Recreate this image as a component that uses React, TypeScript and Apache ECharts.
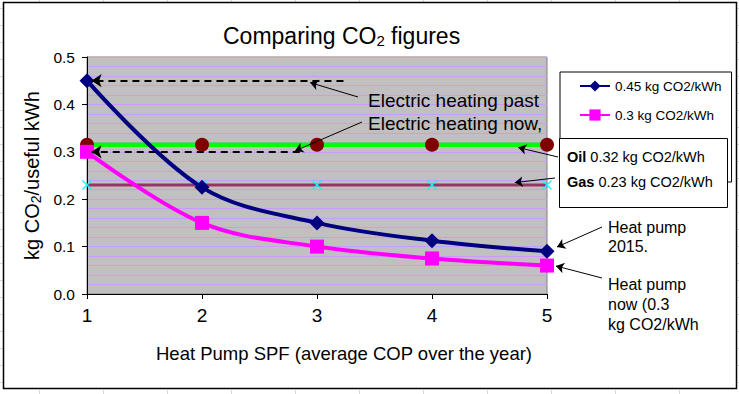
import React, { useEffect, useRef } from "react";
import * as echarts from "echarts";

const spf = [1, 2, 3, 4, 5];
const heatPumpPast = [0.45, 0.225, 0.15, 0.1125, 0.09];
const heatPumpNow = [0.3, 0.15, 0.1, 0.075, 0.06];
const oilValues = [0.315, 0.315, 0.315, 0.315, 0.315];
const gasValues = [0.23, 0.23, 0.23, 0.23, 0.23];
const yTicks = { min: 0, max: 0.5, interval: 0.1 };
const xTicks = { min: 1, max: 5, interval: 1 };
const pastDashed = { from: 3.23, to: 1.04, value: 0.45 };
const nowDashed = { from: 2.85, to: 1.04, value: 0.3 };
const seriesNames = ["0.45 kg CO2/kWh", "0.3 kg CO2/kWh"];

const FONT = 'Arial, "Liberation Sans", sans-serif';

export default function App() {
  const ref = useRef<HTMLDivElement>(null);
  useEffect(() => {
    const chart = echarts.init(ref.current!, null, { renderer: "svg" });
    const pairs = (xs: number[], ys: number[]) => xs.map((x, i) => [x, ys[i]]);

    const sheetLines: any[] = [];
    for (let k = 0; k < 12; k++) {
      const x = 39 + 64 * k + 0.5;
      sheetLines.push({ type: "line", shape: { x1: x, y1: 0, x2: x, y2: 2 }, style: { stroke: "#d8d8d8", lineWidth: 1 }, silent: true });
      sheetLines.push({ type: "line", shape: { x1: x, y1: 390, x2: x, y2: 394 }, style: { stroke: "#d8d8d8", lineWidth: 1 }, silent: true });
    }
    for (let y = 8; y < 394; y += 17) {
      sheetLines.push({ type: "line", shape: { x1: 0, y1: y + 0.5, x2: 3, y2: y + 0.5 }, style: { stroke: "#d8d8d8", lineWidth: 1 }, silent: true });
      sheetLines.push({ type: "line", shape: { x1: 737, y1: y + 0.5, x2: 739, y2: y + 0.5 }, style: { stroke: "#d8d8d8", lineWidth: 1 }, silent: true });
    }

    const txt = (text: string, x: number, y: number, extra: any = {}) => ({
      type: "text",
      x,
      y,
      z: 100,
      style: { text, fill: "#000", font: `16px ${FONT}`, verticalAlign: "middle", align: "left", ...extra },
    });

    chart.setOption({
      animation: false,
      backgroundColor: "#ffffff",
      textStyle: { fontFamily: FONT },
      title: {
        text: "Comparing CO{s|2} figures",
        left: 223,
        top: 24,
        padding: 0,
        textStyle: {
          fontFamily: FONT,
          fontSize: 23,
          fontWeight: "normal",
          color: "#000",
          rich: { s: { fontSize: 15, fontFamily: FONT, padding: [9, 0, 0, 0] } },
        },
      },
      legend: {
        data: seriesNames,
        orient: "vertical",
        left: 560,
        top: 72,
        itemWidth: 30,
        itemHeight: 14,
        itemGap: 15,
        padding: [7, 10, 60, 19],
        backgroundColor: "#fff",
        borderColor: "#000",
        borderWidth: 1,
        textStyle: { fontFamily: FONT, fontSize: 13.5, color: "#000" },
      },
      grid: {
        left: 87,
        top: 57,
        width: 460,
        height: 237,
        show: true,
        backgroundColor: "#C0C0C0",
        borderColor: "#808080",
        borderWidth: 1,
      },
      xAxis: {
        type: "value",
        min: xTicks.min,
        max: xTicks.max,
        interval: xTicks.interval,
        name: "Heat Pump SPF (average COP over the year)",
        nameLocation: "middle",
        nameGap: 50,
        nameTextStyle: { fontFamily: FONT, fontSize: 18.5, color: "#000", padding: [0, 0, 0, 54] },
        axisLine: { lineStyle: { color: "#000", width: 1 } },
        axisTick: { show: true, inside: false, length: 5, lineStyle: { color: "#000" } },
        axisLabel: { fontSize: 19, color: "#000", margin: 12, fontFamily: FONT },
        splitLine: { show: false },
      },
      yAxis: {
        type: "value",
        min: yTicks.min,
        max: yTicks.max,
        interval: yTicks.interval,
        name: "kg CO{s|2}/useful kWh",
        nameLocation: "middle",
        nameGap: 40,
        nameTextStyle: {
          fontFamily: FONT,
          fontSize: 20,
          color: "#000",
          rich: { s: { fontSize: 14, fontFamily: FONT, padding: [8, 0, 0, 0] } },
        },
        axisLine: { show: true, lineStyle: { color: "#000", width: 1 } },
        axisTick: { show: true, inside: false, length: 5, lineStyle: { color: "#000" } },
        axisLabel: { fontSize: 15.5, color: "#000", margin: 12, fontFamily: FONT, formatter: (v: number) => v.toFixed(1) },
        splitLine: { show: true, lineStyle: { color: "#CC99FF", width: 1 } },
        minorTick: { show: false, splitNumber: 5 },
        minorSplitLine: { show: true, lineStyle: { color: "#CC99FF", width: 1 } },
      },
      series: [
        {
          name: "Oil",
          type: "line",
          data: pairs(spf, oilValues),
          symbol: "circle",
          symbolSize: 14,
          lineStyle: { color: "#00FF00", width: 4.5 },
          itemStyle: { color: "#800000" },
          z: 2,
        },
        {
          name: "Gas",
          type: "line",
          data: pairs(spf, gasValues),
          symbol: "path://M0,0L10,10M10,0L0,10",
          symbolSize: 9,
          lineStyle: { color: "#993366", width: 3 },
          itemStyle: { color: "#00FFFF", borderColor: "#00FFFF", borderWidth: 1.2 },
          z: 2,
        },
        {
          name: seriesNames[0],
          type: "line",
          data: pairs(spf, heatPumpPast),
          smooth: 0.35,
          symbol: "diamond",
          symbolSize: 15,
          lineStyle: { color: "#000080", width: 4 },
          itemStyle: { color: "#000080" },
          z: 3,
          markLine: {
            silent: true,
            symbol: ["none", "arrow"],
            symbolSize: 10,
            label: { show: false },
            itemStyle: { color: "#000" },
            lineStyle: { color: "#000", width: 2, type: [7, 5] },
            emphasis: { disabled: true },
            data: [
              [{ coord: [pastDashed.from, pastDashed.value] }, { coord: [pastDashed.to, pastDashed.value] }],
              [{ coord: [nowDashed.from, nowDashed.value] }, { coord: [nowDashed.to, nowDashed.value] }],
            ],
          },
        },
        {
          name: seriesNames[1],
          type: "line",
          data: pairs(spf, heatPumpNow),
          smooth: 0.35,
          symbol: "rect",
          symbolSize: 14,
          lineStyle: { color: "#FF00FF", width: 4 },
          itemStyle: { color: "#FF00FF" },
          z: 3,
        },
        {
          name: "annotations",
          type: "line",
          data: [],
          clip: false,
          z: 20,
          markLine: {
            silent: true,
            symbol: ["none", "arrow"],
            symbolSize: 8,
            label: { show: false },
            itemStyle: { color: "#000" },
            lineStyle: { color: "#000", width: 1, type: "solid" },
            emphasis: { disabled: true },
            data: [
              [{ x: 358, y: 97 }, { coord: [2.94, 0.446] }],
              [{ x: 362, y: 122 }, { coord: [2.81, 0.302] }],
              [{ x: 558, y: 157 }, { coord: [4.75, 0.309] }],
              [{ x: 555, y: 178 }, { coord: [4.72, 0.235] }],
              [{ x: 602, y: 227 }, { x: 557, y: 247 }],
              [{ x: 602, y: 278 }, { x: 556, y: 266 }],
            ],
          },
        },
      ],
      graphic: [
        ...sheetLines,
        {
          type: "rect",
          z: 200,
          silent: true,
          shape: { x: 3.5, y: 2.5, width: 733, height: 386 },
          style: { fill: "none", stroke: "#000", lineWidth: 1.5 },
        },
        txt("Electric heating past", 368, 100, { font: `19px ${FONT}` }),
        txt("Electric heating now,", 368, 123, { font: `19px ${FONT}` }),
        {
          type: "rect",
          z: 100,
          shape: { x: 559.5, y: 138.5, width: 168, height: 69 },
          style: { fill: "#fff", stroke: "#000", lineWidth: 1 },
        },
        txt("{b|Oil} 0.32 kg CO2/kWh", 567, 157, { font: `14.5px ${FONT}`, rich: { b: { fontWeight: "bold", fontSize: 14.5, fontFamily: FONT } } }),
        txt("{b|Gas} 0.23 kg CO2/kWh", 567, 182, { font: `14.5px ${FONT}`, rich: { b: { fontWeight: "bold", fontSize: 14.5, fontFamily: FONT } } }),
        txt("Heat pump", 608, 227),
        txt("2015.", 608, 246),
        txt("Heat pump", 608, 284),
        txt("now (0.3", 608, 304),
        txt("kg CO2/kWh", 608, 324),
      ],
    });
    return () => chart.dispose();
  }, []);
  return <div ref={ref} style={{ position: "absolute", left: 0, top: 0, width: 739, height: 394 }} />;
}
